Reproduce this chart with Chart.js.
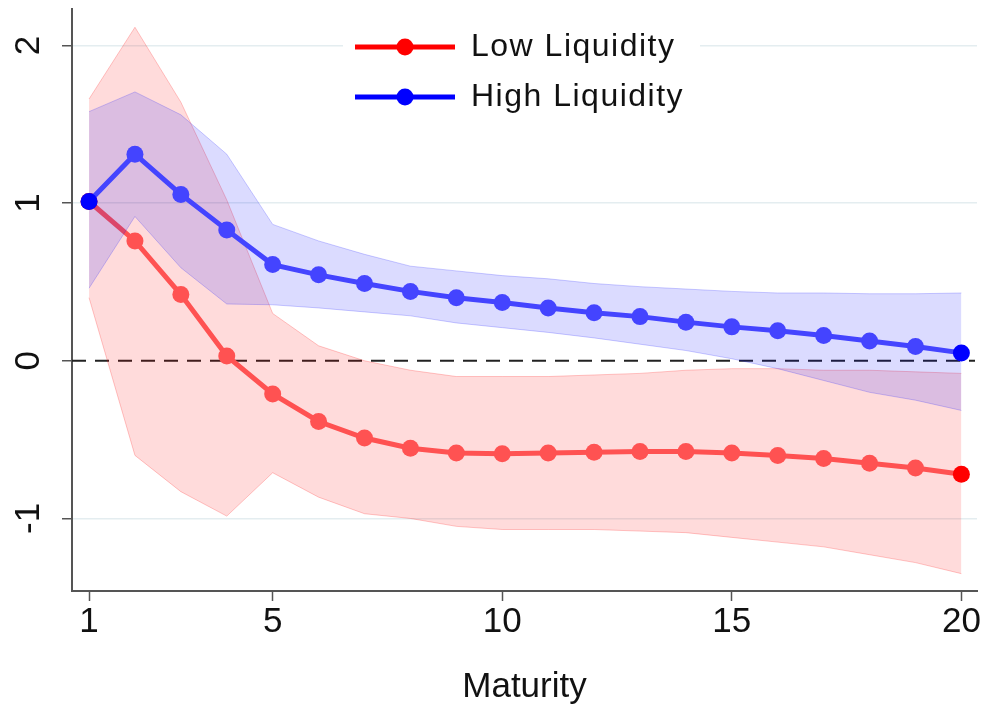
<!DOCTYPE html>
<html>
<head>
<meta charset="utf-8">
<title>Maturity - Low vs High Liquidity</title>
<script src="https://cdn.jsdelivr.net/npm/chart.js@4/dist/chart.umd.min.js"></script>
<style>
  html, body { margin: 0; padding: 0; background: #fff; }
  #wrap { width: 986px; height: 708px; }
</style>
</head>
<body>
<div id="wrap"><canvas id="grafica" width="986" height="708"></canvas></div>
<script>
// ════════════════════════════════════════
//  Data
// ════════════════════════════════════════

const maturity = [1, 2, 3, 4, 5, 6, 7, 8, 9, 10, 11, 12, 13, 14, 15, 16, 17, 18, 19, 20];

const lowMid = [1.01, 0.76, 0.42, 0.03, -0.21, -0.385, -0.49, -0.555, -0.585, -0.59,
  -0.585, -0.58, -0.575, -0.575, -0.585, -0.60, -0.62, -0.65, -0.68, -0.72];
const lowUpper = [1.66, 2.115, 1.64, 1.02, 0.30, 0.095, 0.0, -0.06, -0.10, -0.10,
  -0.10, -0.09, -0.08, -0.06, -0.05, -0.05, -0.06, -0.06, -0.07, -0.08];
const lowLower = [0.40, -0.60, -0.83, -0.985, -0.71, -0.865, -0.97, -1.0, -1.05, -1.07,
  -1.07, -1.07, -1.08, -1.09, -1.12, -1.15, -1.18, -1.23, -1.28, -1.35];

const highMid = [1.01, 1.31, 1.055, 0.83, 0.61, 0.545, 0.49, 0.44, 0.40, 0.37,
  0.335, 0.305, 0.28, 0.245, 0.215, 0.19, 0.16, 0.125, 0.09, 0.05];
const highUpper = [1.58, 1.705, 1.56, 1.31, 0.865, 0.76, 0.675, 0.60, 0.57, 0.54,
  0.52, 0.49, 0.47, 0.455, 0.44, 0.43, 0.43, 0.425, 0.425, 0.43];
const highLower = [0.46, 0.915, 0.59, 0.36, 0.355, 0.335, 0.31, 0.285, 0.24, 0.21,
  0.18, 0.145, 0.105, 0.065, 0.013, -0.05, -0.125, -0.20, -0.25, -0.315];

const xTicks = [1, 5, 10, 15, 20];
const yTicks = [-1, 0, 1, 2];
const seriesNames = ["Low Liquidity", "High Liquidity"];


// ════════════════════════════════════════
//  Helpers
// ════════════════════════════════════════

function pts(values) {
  return maturity.map((m, i) => ({ x: m, y: values[i] }));
}

// legend symbol: line with a dot in the middle
function makeSymbol(color) {
  const c = document.createElement("canvas");
  c.width = 100;
  c.height = 20;
  const g = c.getContext("2d");
  g.strokeStyle = color;
  g.lineWidth = 5;
  g.beginPath();
  g.moveTo(0, 10);
  g.lineTo(100, 10);
  g.stroke();
  g.fillStyle = color;
  g.beginPath();
  g.arc(50, 10, 8.5, 0, Math.PI * 2);
  g.fill();
  return c;
}

const symbols = [makeSymbol("#ff0000"), makeSymbol("#0000ff")];

// end markers are drawn in the full colour
function endColor(soft, full) {
  return function(ctx) {
    const last = maturity.length - 1;
    return (ctx.dataIndex === 0 || ctx.dataIndex === last) ? full : soft;
  };
}

// zero line + white box behind the legend
const extras = {
  id: "extras",
  afterLayout(chart) {
    const lg = chart.legend;
    if (!lg) return;
    lg.left = 337;
    lg.top = 13;
    lg.right = lg.left + lg.width + 60;
    lg.width = lg.right - lg.left;
    lg.bottom = lg.top + 560;
  },
  beforeDatasetsDraw(chart) {
    const { ctx, chartArea, scales } = chart;
    const y0 = scales.y.getPixelForValue(0);
    ctx.save();
    ctx.strokeStyle = "#222";
    ctx.lineWidth = 2;
    ctx.setLineDash([14, 9]);
    ctx.beginPath();
    ctx.moveTo(chartArea.left, y0);
    ctx.lineTo(chartArea.right - 2, y0);
    ctx.stroke();
    ctx.restore();

    ctx.save();
    ctx.fillStyle = "#fff";
    ctx.fillRect(343, 20, 357, 100);
    ctx.letterSpacing = "1.5px";
    chart.legend.draw();
    ctx.restore();
  }
};


// ════════════════════════════════════════
//  Chart
// ════════════════════════════════════════

Chart.defaults.font.family = "'Liberation Sans', Arial, Helvetica, sans-serif";
Chart.defaults.color = "#111";

const bandRed = "rgba(255, 0, 0, 0.14)";
const bandBlue = "rgba(0, 0, 255, 0.14)";

new Chart(document.getElementById("grafica"), {
  type: "line",
  data: {
    datasets: [
      {
        label: "lowUpper",
        data: pts(lowUpper),
        borderColor: "rgba(255, 0, 0, 0.22)",
        borderWidth: 1,
        backgroundColor: bandRed,
        fill: "+1",
        pointRadius: 0,
        order: 6
      },
      {
        label: "lowLower",
        data: pts(lowLower),
        borderColor: "rgba(255, 0, 0, 0.22)",
        borderWidth: 1,
        fill: false,
        pointRadius: 0,
        order: 5
      },
      {
        label: seriesNames[0],
        data: pts(lowMid),
        borderColor: "#ff5252",
        backgroundColor: "#ff5252",
        borderWidth: 5,
        pointRadius: 8.5,
        pointBorderWidth: 0,
        pointBackgroundColor: endColor("#ff5252", "#ff0000"),
        fill: false,
        order: 4
      },
      {
        label: "highUpper",
        data: pts(highUpper),
        borderColor: "rgba(0, 0, 255, 0.2)",
        borderWidth: 1,
        backgroundColor: bandBlue,
        fill: "+1",
        pointRadius: 0,
        order: 3
      },
      {
        label: "highLower",
        data: pts(highLower),
        borderColor: "rgba(0, 0, 255, 0.2)",
        borderWidth: 1,
        fill: false,
        pointRadius: 0,
        order: 2
      },
      {
        label: seriesNames[1],
        data: pts(highMid),
        borderColor: "#4444ff",
        backgroundColor: "#4444ff",
        borderWidth: 5,
        pointRadius: 8.5,
        pointBorderWidth: 0,
        pointBackgroundColor: endColor("#4444ff", "#0000ff"),
        fill: false,
        order: 1
      }
    ]
  },
  options: {
    responsive: false,
    animation: false,
    layout: { padding: { top: 7, right: 9, left: 0, bottom: 0 } },
    elements: { line: { tension: 0 } },
    plugins: {
      filler: { drawTime: "beforeDatasetDraw" },
      tooltip: { enabled: false },
      legend: {
        position: "chartArea",
        align: "start",
        labels: {
          usePointStyle: true,
          pointStyleWidth: 100,
          padding: 18,
          color: "#111",
          font: { size: 32 },
          generateLabels(chart) {
            const base = Chart.defaults.plugins.legend.labels.generateLabels(chart);
            return base
              .filter(it => seriesNames.includes(it.text))
              .map(it => {
                it.pointStyle = symbols[seriesNames.indexOf(it.text)];
                it.lineWidth = 0;
                return it;
              });
          },
          sort: (a, b) => a.datasetIndex - b.datasetIndex
        }
      }
    },
    scales: {
      x: {
        type: "linear",
        min: 0.629,
        max: 20.34,
        afterBuildTicks: s => { s.ticks = xTicks.map(v => ({ value: v })); },
        afterFit: s => { s.height = 117; s.paddingLeft = 0; s.paddingRight = 0; },
        border: { color: "#555", width: 2 },
        grid: { drawOnChartArea: false, tickColor: "#555", tickLength: 10, tickWidth: 1.5 },
        ticks: { padding: 0, maxRotation: 0, autoSkip: false, font: { size: 35 }, color: "#111" },
        title: {
          display: true,
          text: "Maturity",
          color: "#111",
          font: { size: 35, lineHeight: 1 },
          padding: { top: 0, bottom: 3 }
        }
      },
      y: {
        min: -1.46,
        max: 2.234,
        afterBuildTicks: s => { s.ticks = yTicks.map(v => ({ value: v })); },
        afterFit: s => { s.width = 72; s.paddingTop = 0; s.paddingBottom = 0; },
        border: { color: "#555", width: 2 },
        grid: {
          color: c => (c.tick && c.tick.value === 0) ? "rgba(0,0,0,0)" : "#e4edf0",
          lineWidth: 1.5,
          tickColor: "#555",
          tickLength: 10,
          tickWidth: 1.5
        },
        ticks: {
          minRotation: 90,
          maxRotation: 90,
          crossAlign: "center",
          padding: 17,
          font: { size: 35 },
          color: "#111"
        }
      }
    }
  },
  plugins: [extras]
});
</script>
</body>
</html>
